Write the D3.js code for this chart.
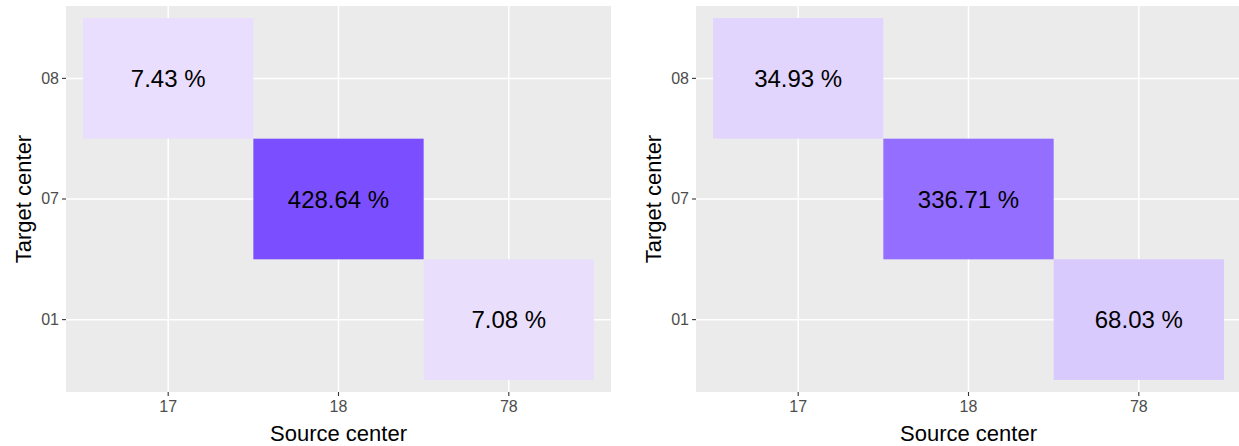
<!DOCTYPE html>
<html>
<head>
<meta charset="utf-8">
<script src="https://cdn.jsdelivr.net/npm/d3@7"></script>
<style>
  body { margin: 0; background: #fff; }
  svg { display: block; }
</style>
</head>
<body>
<svg id="chart" width="1239" height="446"></svg>
<script>
// categories
let sourceCenters = ["17", "18", "78"];
let targetCenters = ["01", "07", "08"];

// tiles: source, target per cell (same for both panels)
let tileSources = ["17", "18", "78"];
let tileTargets = ["08", "07", "01"];

// percentages shown in the tiles
let leftValues = [7.43, 428.64, 7.08];
let rightValues = [34.93, 336.71, 68.03];

let fontFamily = "'Liberation Sans', Arial, Helvetica, sans-serif";

var svg = d3.select("#chart");

// one shared fill scale, light lavender to strong purple
let maxValue = d3.max(leftValues.concat(rightValues));
var fill = d3.scaleLinear()
  .domain([0, maxValue])
  .range(["#EBE1FD", "#7B4FFF"])
  .interpolate(d3.interpolateRgb);

function drawPanel(values, left, right) {
  let top = 6, bottom = 392;

  var x = d3.scaleBand()
    .domain(sourceCenters)
    .range([left, right])
    .paddingInner(0)
    .paddingOuter(0.1);

  var y = d3.scaleBand()
    .domain(targetCenters)
    .range([bottom, top])
    .paddingInner(0)
    .paddingOuter(0.1);

  let g = svg.append("g");

  // grey panel
  g.append("rect")
    .attr("x", left)
    .attr("y", top)
    .attr("width", right - left)
    .attr("height", bottom - top)
    .style("fill", "#EBEBEB");

  // major grid
  g.selectAll(".vgrid")
    .data(sourceCenters)
    .enter()
    .append("line")
      .attr("x1", function(d){ return x(d) + x.bandwidth()/2 })
      .attr("x2", function(d){ return x(d) + x.bandwidth()/2 })
      .attr("y1", top)
      .attr("y2", bottom)
      .style("stroke", "#fff")
      .style("stroke-width", 1.5);

  g.selectAll(".hgrid")
    .data(targetCenters)
    .enter()
    .append("line")
      .attr("y1", function(d){ return y(d) + y.bandwidth()/2 })
      .attr("y2", function(d){ return y(d) + y.bandwidth()/2 })
      .attr("x1", left)
      .attr("x2", right)
      .style("stroke", "#fff")
      .style("stroke-width", 1.5);

  let cells = d3.range(values.length).map(function(i){
    return { source: tileSources[i], target: tileTargets[i], value: values[i] };
  });

  g.selectAll(".tile")
    .data(cells)
    .enter()
    .append("rect")
      .attr("x", function(d){ return x(d.source) })
      .attr("y", function(d){ return y(d.target) })
      .attr("width", x.bandwidth())
      .attr("height", y.bandwidth())
      .style("fill", function(d){ return fill(d.value) });

  g.selectAll(".tile-label")
    .data(cells)
    .enter()
    .append("text")
      .attr("x", function(d){ return x(d.source) + x.bandwidth()/2 })
      .attr("y", function(d){ return y(d.target) + y.bandwidth()/2 })
      .attr("dy", "0.36em")
      .attr("text-anchor", "middle")
      .text(function(d){ return d.value.toFixed(2) + " %" })
      .style("font-family", fontFamily)
      .style("font-size", "24px")
      .style("fill", "#000");

  // axes
  let xAxis = g.append("g")
    .attr("transform", "translate(0," + bottom + ")")
    .call(d3.axisBottom(x).tickSize(4).tickPadding(5));

  let yAxis = g.append("g")
    .attr("transform", "translate(" + left + ",0)")
    .call(d3.axisLeft(y).tickSize(4).tickPadding(3));

  [xAxis, yAxis].forEach(function(a){
    a.select(".domain").remove();
    a.selectAll(".tick line").style("stroke", "#333").style("stroke-width", 1.1);
    a.selectAll(".tick text")
      .style("font-family", fontFamily)
      .style("font-size", "16px")
      .style("fill", "#4D4D4D");
  });

  // axis titles
  g.append("text")
    .attr("x", (left + right) / 2)
    .attr("y", 441)
    .attr("text-anchor", "middle")
    .text("Source center")
    .style("font-family", fontFamily)
    .style("font-size", "22px")
    .style("fill", "#000");

  g.append("text")
    .attr("transform", "translate(" + (left - 35) + "," + ((top + bottom) / 2) + ") rotate(-90)")
    .attr("text-anchor", "middle")
    .text("Target center")
    .style("font-family", fontFamily)
    .style("font-size", "22px")
    .style("fill", "#000");
}

drawPanel(leftValues, 66, 611);
drawPanel(rightValues, 696, 1241);
</script>
</body>
</html>
